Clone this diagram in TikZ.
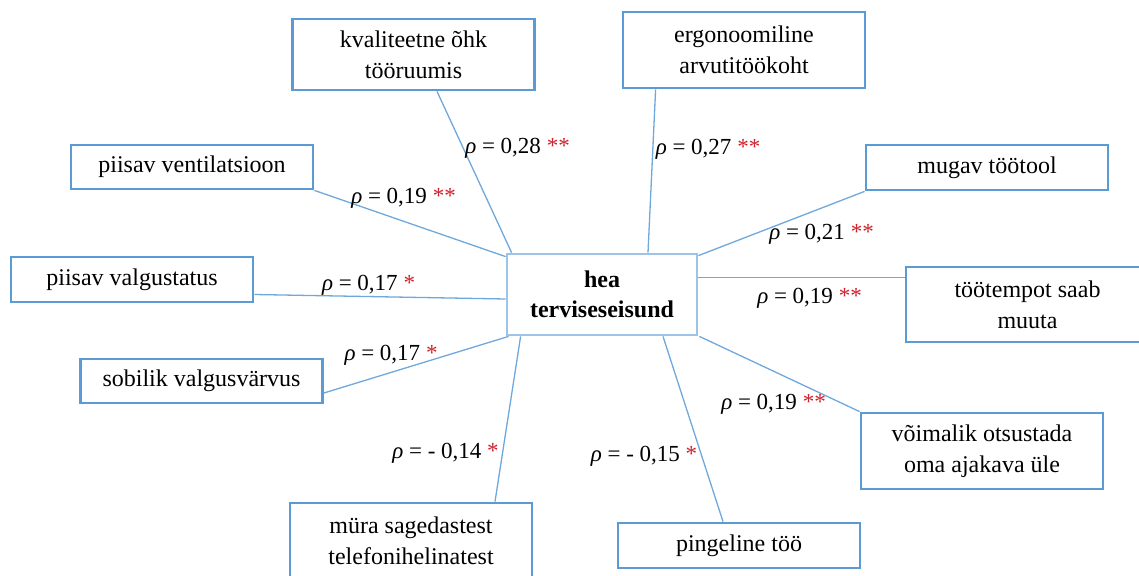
\documentclass[tikz,border=0pt]{standalone}
\usepackage{fontspec}
\setmainfont{Liberation Serif}
\usetikzlibrary{calc}
\definecolor{boxblue}{HTML}{5B9BD5}
\definecolor{hubblue}{HTML}{9DC3E6}
\definecolor{linkblue}{HTML}{6FA8DC}
\definecolor{starred}{HTML}{D0202A}
\newcommand{\rhoval}[2]{\textit{ρ} = #1 {\color{starred}#2}}
\begin{document}
\begin{tikzpicture}[x=1pt,y=-1pt,
  box/.style={draw=boxblue, line width=2.8pt, fill=white, inner sep=0pt, align=center,
    font=\fontsize{24}{31}\selectfont, minimum width=242pt},
  oneline/.style={box, minimum height=44pt},
  twoline/.style={box, minimum height=76pt},
  hub/.style={draw=hubblue, line width=2.8pt, fill=white, inner sep=0pt, align=center,
    font=\fontsize{24}{30}\selectfont\bfseries, minimum width=190pt, minimum height=81pt},
  link/.style={draw=linkblue, line width=1.3pt},
  rholbl/.style={inner sep=0pt, anchor=base, font=\fontsize{23}{28}\selectfont}]
\useasboundingbox (0,0) rectangle (1139,575);

% boxes
\node[twoline, minimum height=71pt] (kval) at (413.5,54.5) {kvaliteetne õhk\\tööruumis};
\node[twoline] (ergo) at (744,50) {ergonoomiline\\arvutitöökoht};
\node[oneline] (vent) at (192,167) {piisav ventilatsioon};
\node[oneline, minimum height=45pt] (mugav) at (987,167.5) {mugav töötool};
\node[oneline, minimum height=45pt] (valg) at (132,279.5) {piisav valgustatus};
\node[hub] (hub) at (602,294.5) {hea\\terviseseisund};
\node[twoline, minimum height=75pt, minimum width=243pt] (too) at (1027.5,304.5) {töötempot saab\\muuta};
\node[oneline] (sob) at (201.5,381) {sobilik valgusvärvus};
\node[twoline] (voim) at (982,451) {võimalik otsustada\\oma ajakava üle};
\node[twoline] (mura) at (411,541) {müra sagedastest\\telefonihelinatest};
\node[oneline, minimum height=45pt] (ping) at (739,545.5) {pingeline töö};

% connectors
\draw[link] ($(kval.south)+(23.5,0)$) -- ($(hub.north west)+(6,0)$);
\draw[link] ($(ergo.south west)+(34,0)$) -- ($(hub.north)+(46,0)$);
\draw[link] (vent.south east) -- ($(hub.north west)+(0,4)$);
\draw[link] ($(valg.east)+(0,15)$) -- ($(hub.west)+(0,4.5)$);
\draw[link] ($(sob.east)+(0,12)$) -- ($(hub.south west)+(3,0)$);
\draw[link] ($(mura.north)+(84,0)$) -- ($(hub.south west)+(15,0)$);
\draw[link] ($(ping.north)+(-16,0)$) -- ($(hub.south)+(61,0)$);
\draw[link] (voim.north west) -- ($(hub.south east)+(1,0)$);
\draw[link] ($(too.north west)+(0,12)$) -- ($(hub.north east)+(0,25)$);
\draw[link] (mugav.south west) -- ($(hub.north east)+(0,3)$);

% labels
\node[rholbl] (l1) at (517.5,153) {\rhoval{0,28}{**}};
\node[rholbl] (l2) at (708,154) {\rhoval{0,27}{**}};
\node[rholbl] (l3) at (403.5,203) {\rhoval{0,19}{**}};
\node[rholbl] (l4) at (368.5,290) {\rhoval{0,17}{*}};
\node[rholbl] (l5) at (391,360) {\rhoval{0,17}{*}};
\node[rholbl] (l6) at (445.5,458) {\rhoval{- 0,14}{*}};
\node[rholbl] (l7) at (644,461) {\rhoval{- 0,15}{*}};
\node[rholbl] (l8) at (773.5,409) {\rhoval{0,19}{**}};
\node[rholbl] (l9) at (809.5,303) {\rhoval{0,19}{**}};
\node[rholbl] (l10) at (821.5,239) {\rhoval{0,21}{**}};
\end{tikzpicture}
\end{document}
